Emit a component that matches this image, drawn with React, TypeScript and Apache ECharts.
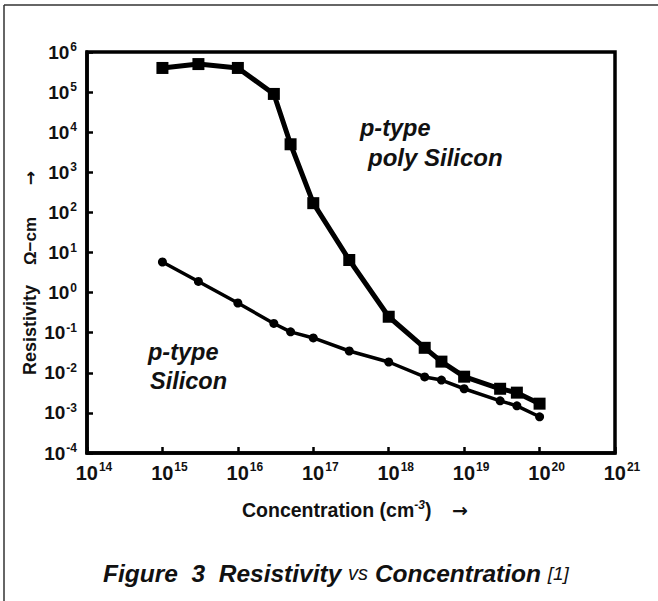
import React, { useEffect, useRef } from "react";
import * as echarts from "echarts";

const concentrations = [1e15, 3e15, 1e16, 3e16, 5e16, 1e17, 3e17, 1e18, 3e18, 5e18, 1e19, 3e19, 5e19, 1e20];
const polySilicon = [4e5, 5e5, 4e5, 9e4, 5e3, 170, 6.5, 0.25, 0.042, 0.019, 0.008, 0.004, 0.0032, 0.0017];
const silicon = [5.8, 1.9, 0.55, 0.17, 0.105, 0.074, 0.035, 0.0186, 0.0079, 0.0066, 0.004, 0.002, 0.0015, 0.0008];
const xExtent = [1e14, 1e21];
const yExtent = [1e-4, 1e6];

const FONT = "'Liberation Sans', Arial, sans-serif";
const ARROW_FONT = "'DejaVu Sans', sans-serif";

function powLabel(v: number) {
  const e = Math.round(Math.log10(v));
  return `{sp|}{b|10}{s|${e}}`;
}

export default function App() {
  const ref = useRef<HTMLDivElement>(null);
  useEffect(() => {
    if (!ref.current) return;
    const chart = echarts.init(ref.current, undefined, { renderer: "svg" });
    const rich = {
      sp: { width: 14, fontSize: 20 },
      b: { fontSize: 20, fontWeight: "bold", fontFamily: FONT, color: "#111" },
      s: { fontSize: 12, fontWeight: "bold", fontFamily: FONT, color: "#111", verticalAlign: "top", padding: [0, 0, 11, 1] },
    };
    const richY = {
      b: { fontSize: 19, fontWeight: "bold", fontFamily: FONT, color: "#111" },
      s: { fontSize: 12, fontWeight: "bold", fontFamily: FONT, color: "#111", verticalAlign: "top", padding: [0, 0, 10, 1] },
    };
    chart.setOption({
      animation: false,
      backgroundColor: "#fff",
      grid: {
        left: 87, right: 43, top: 52, bottom: 148,
        show: true, borderColor: "#000", borderWidth: 3.5, backgroundColor: "transparent",
      },
      xAxis: {
        type: "log", logBase: 10, min: xExtent[0], max: xExtent[1], interval: 1,
        axisLine: { show: true, lineStyle: { color: "#000", width: 3.5 } },
        axisTick: { show: true, inside: true, length: 6, lineStyle: { color: "#000", width: 2.5 } },
        splitLine: { show: false },
        axisLabel: { formatter: powLabel, rich, margin: 8, showMinLabel: true, showMaxLabel: true },
      },
      yAxis: {
        type: "log", logBase: 10, min: yExtent[0], max: yExtent[1], interval: 1,
        axisLine: { show: true, lineStyle: { color: "#000", width: 3.5 } },
        axisTick: { show: true, inside: true, length: 6, lineStyle: { color: "#000", width: 2.5 } },
        splitLine: { show: false },
        axisLabel: {
          formatter: (v: number) => `{b|10}{s|${Math.round(Math.log10(v))}}`,
          rich: richY, margin: 10, showMinLabel: true, showMaxLabel: true,
        },
      },
      series: [
        {
          name: "p-type poly Silicon", type: "line",
          data: concentrations.map((c, i) => [c, polySilicon[i]]),
          symbol: "rect", symbolSize: 12,
          lineStyle: { color: "#000", width: 5 },
          itemStyle: { color: "#000" },
        },
        {
          name: "p-type Silicon", type: "line",
          data: concentrations.map((c, i) => [c, silicon[i]]),
          symbol: "circle", symbolSize: 9,
          lineStyle: { color: "#000", width: 3.5 },
          itemStyle: { color: "#000" },
        },
      ],
      graphic: [
        { type: "line", shape: { x1: 4, y1: 5, x2: 4, y2: 601 }, style: { stroke: "#333", lineWidth: 1.5 } },
        { type: "line", shape: { x1: 4, y1: 5, x2: 658, y2: 5 }, style: { stroke: "#333", lineWidth: 1.5 } },
        {
          type: "text", x: 30, y: 330, rotation: Math.PI / 2,
          style: { text: "Resistivity", font: `bold 18px ${FONT}`, fill: "#111", align: "center", verticalAlign: "middle" },
        },
        {
          type: "text", x: 30, y: 241, rotation: Math.PI / 2,
          style: { text: "Ω−cm", font: `bold 17px ${FONT}`, fill: "#111", align: "center", verticalAlign: "middle" },
        },
        {
          type: "text", x: 30, y: 178, rotation: Math.PI / 2,
          style: { text: "→", font: `bold 17px ${ARROW_FONT}`, fill: "#111", align: "center", verticalAlign: "middle" },
        },
        {
          type: "text", x: 242, y: 510,
          style: {
            text: "{n|Concentration (cm}{s|-3}{n|)}",
            align: "left", verticalAlign: "middle",
            rich: {
              n: { font: `bold 19.5px ${FONT}`, fill: "#111" },
              s: { font: `italic bold 12px ${FONT}`, fill: "#111", verticalAlign: "top", padding: [0, 0, 10, 0] },
            },
          },
        },
        {
          type: "text", x: 460, y: 510,
          style: { text: "→", font: `bold 19px ${ARROW_FONT}`, fill: "#111", align: "center", verticalAlign: "middle" },
        },
        {
          type: "text", x: 103, y: 573,
          style: {
            text: "{a|Figure  3  Resistivity }{v|vs}{a| Concentration }{r|[1]}",
            align: "left", verticalAlign: "middle",
            rich: {
              a: { font: `italic bold 24.5px ${FONT}`, fill: "#111" },
              v: { font: `italic 20px ${FONT}`, fill: "#111" },
              r: { font: `italic 19px ${FONT}`, fill: "#111" },
            },
          },
        },
        {
          type: "text", x: 360, y: 128,
          style: { text: "p-type", font: `italic bold 23.5px ${FONT}`, fill: "#111", verticalAlign: "middle" },
        },
        {
          type: "text", x: 368, y: 157,
          style: { text: "poly Silicon", font: `italic bold 24px ${FONT}`, fill: "#111", verticalAlign: "middle" },
        },
        {
          type: "text", x: 148, y: 352,
          style: { text: "p-type", font: `italic bold 23.5px ${FONT}`, fill: "#111", verticalAlign: "middle" },
        },
        {
          type: "text", x: 150, y: 381,
          style: { text: "Silicon", font: `italic bold 23.5px ${FONT}`, fill: "#111", verticalAlign: "middle" },
        },
      ],
    });
    return () => chart.dispose();
  }, []);
  return (
    <div
      ref={ref}
      style={{ position: "fixed", left: 0, top: 0, width: 658, height: 601, background: "#fff" }}
    />
  );
}
